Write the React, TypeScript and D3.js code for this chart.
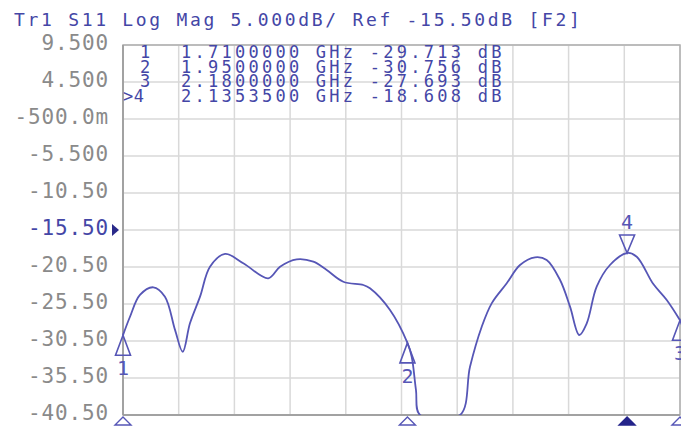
import React from "react";
import * as d3 from "d3";

const titleText = "Tr1 S11 Log Mag 5.000dB/ Ref -15.50dB [F2]";

const yTickValues = [9.5, 4.5, -0.5, -5.5, -10.5, -15.5, -20.5, -25.5, -30.5, -35.5, -40.5];
const yTickLabels = ["9.500", "4.500", "-500.0m", "-5.500", "-10.50", "-15.50", "-20.50", "-25.50", "-30.50", "-35.50", "-40.50"];

const traceFreq = [
  1.71, 1.7159, 1.7243, 1.7356, 1.7454, 1.7539, 1.7604, 1.7665, 1.775, 1.7834,
  1.7961, 1.8115, 1.8326, 1.8425, 1.8566, 1.8706, 1.8819, 1.8959, 1.9128, 1.9184,
  1.9353, 1.95, 1.9536, 1.9572, 1.9606, 1.9944, 2.0028, 2.0127, 2.0211, 2.0338,
  2.045, 2.0577, 2.0675, 2.0788, 2.0872, 2.095, 2.1013, 2.1097, 2.1209, 2.1354,
  2.1435, 2.1575, 2.1688, 2.18,
];
const traceDb = [
  -29.71, -27.22, -24.28, -23.24, -24.51, -29.0, -31.95, -28.11, -24.51, -20.46,
  -18.74, -19.99, -22.03, -20.46, -19.46, -19.78, -20.91, -22.49, -22.93, -23.38,
  -26.31, -30.76, -32.62, -37.1, -40.5, -40.5, -33.97, -28.57, -25.41, -22.7,
  -20.23, -19.19, -19.55, -22.26, -25.86, -29.69, -28.11, -23.16, -20.23, -18.61,
  -19.11, -22.81, -24.96, -27.69,
];

const markerIds = ["1", "2", "3", "4"];
const markerFreq = [1.71, 1.95, 2.18, 2.13535];
const markerDb = [-29.713, -30.756, -27.693, -18.608];
const activeMarker = 3;

const startFreq = 1.71;
const stopFreq = 2.18;
const refLevel = -15.5;

const TRACE = "#5656b6";
const TEXT_BLUE = "#4446a6";
const FONT = "'DejaVu Sans Mono', monospace";

export default function App() {
  const W = 681, H = 430;
  const left = 123, right = 680, top = 45, bottom = 415;

  const x = d3.scaleLinear().domain([startFreq, stopFreq]).range([left, right]);
  const y = d3.scaleLinear().domain([-40.5, 9.5]).range([bottom, top]);
  const xGrid = d3.range(11).map((i) => startFreq + (i * (stopFreq - startFreq)) / 10);

  const pts: [number, number][] = traceFreq.map((f, i) => [x(f), y(traceDb[i])]);
  const line = d3.line().curve(d3.curveCatmullRom.alpha(0.5))(pts) || "";

  const tri = (cx: number, cy: number, hw: number, h: number, up: boolean) =>
    up
      ? `M${cx},${cy} L${cx - hw},${cy + h} L${cx + hw},${cy + h} Z`
      : `M${cx},${cy} L${cx - hw},${cy - h} L${cx + hw},${cy - h} Z`;

  return (
    <svg width={W} height={H} style={{ position: "absolute", left: 0, top: 0, background: "#fff" }}>
      <defs>
        <clipPath id="plotClip">
          <rect x={left - 2} y={top} width={right - left + 4} height={bottom - top} />
        </clipPath>
      </defs>
      <rect x={0} y={0} width={W} height={H} fill="#fff" />
      <text x={14} y={26} fontFamily={FONT} fontSize={18} letterSpacing={2.7} fill={TEXT_BLUE}>
        {titleText}
      </text>

      {/* grid */}
      {yTickValues.map((v, i) => (
        <line key={"gy" + i} x1={left} x2={right} y1={y(v)} y2={y(v)} stroke="#d9d9d9" strokeWidth={1.5} />
      ))}
      {xGrid.map((f, i) => (
        <line key={"gx" + i} x1={x(f)} x2={x(f)} y1={top} y2={bottom} stroke="#d9d9d9" strokeWidth={1.5} />
      ))}
      <rect x={left} y={top} width={right - left} height={bottom - top} fill="none" stroke="#b0b0b0" strokeWidth={1.5} />
      <line x1={left} x2={left} y1={top} y2={bottom} stroke="#9a9a9a" strokeWidth={1.5} />
      <line x1={left} x2={right} y1={bottom} y2={bottom} stroke="#9a9a9a" strokeWidth={1.5} />

      {/* y labels */}
      {yTickValues.map((v, i) => (
        <text
          key={"yl" + i}
          x={109}
          y={y(v) + 5}
          textAnchor="end"
          fontFamily={FONT}
          fontSize={21}
          letterSpacing={0.85}
          fill={v === refLevel ? TEXT_BLUE : "#8a8a8a"}
        >
          {yTickLabels[i]}
        </text>
      ))}
      <path d={`M${112},${y(refLevel) - 6} L${119},${y(refLevel)} L${112},${y(refLevel) + 6} Z`} fill="#2a2a8a" />

      {/* marker table */}
      {markerIds.map((id, i) => (
        <g key={"mt" + i}>
          <text
            x={i === activeMarker ? 123 : 140}
            y={58 + i * 14.5}
            fontFamily={FONT}
            fontSize={17}
            letterSpacing={i === activeMarker ? 0.5 : 2.7}
            fill={TEXT_BLUE}
          >
            {i === activeMarker ? ">" + id : id}
          </text>
          <text x={181} y={58 + i * 14.5} fontFamily={FONT} fontSize={17} letterSpacing={3.25} fill={TEXT_BLUE} xmlSpace="preserve">
            {markerFreq[i].toFixed(7) + " GHz " + markerDb[i].toFixed(3) + " dB"}
          </text>
        </g>
      ))}

      {/* trace */}
      <path d={line} fill="none" stroke={TRACE} strokeWidth={1.8} strokeLinejoin="round" clipPath="url(#plotClip)" />

      {/* markers on trace */}
      {markerIds.map((id, i) => {
        const mx = x(markerFreq[i]);
        const my = y(markerDb[i]);
        const active = i === activeMarker;
        return (
          <g key={"mk" + i}>
            <path d={tri(mx, my, 7.5, active ? 18 : 20, !active)} fill="none" stroke={TRACE} strokeWidth={1.6} />
            <text
              x={mx}
              y={active ? my - 24 : my + 40}
              textAnchor="middle"
              fontFamily={FONT}
              fontSize={20}
              fill={TRACE}
            >
              {id}
            </text>
            <path
              d={tri(mx, bottom + 2, 8, 8, true)}
              fill={active ? "#24248a" : "none"}
              stroke={active ? "#24248a" : TRACE}
              strokeWidth={1.4}
            />
          </g>
        );
      })}
    </svg>
  );
}
